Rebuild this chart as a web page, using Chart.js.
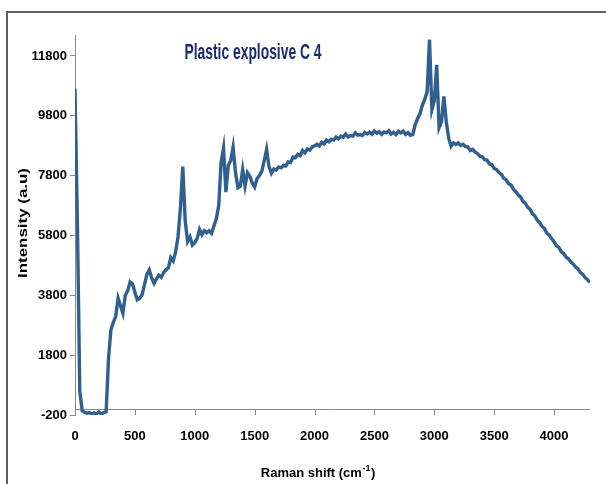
<!DOCTYPE html>
<html>
<head>
<meta charset="utf-8">
<title>Plastic explosive C 4 - Raman spectrum</title>
<script src="https://cdn.jsdelivr.net/npm/chart.js@4/dist/chart.umd.min.js"></script>
<style>
  html, body { margin: 0; padding: 0; background: #ffffff; }
  canvas { display: block; }
</style>
</head>
<body>
<canvas id="c" width="606" height="484"></canvas>
<script>
// Raman shift (cm-1)
const ramanShift = [
  0, 20, 40, 60, 80, 100, 120, 140, 160, 180,
  200, 220, 240, 260, 280, 300, 320, 340, 360, 380,
  400, 420, 440, 460, 480, 500, 520, 540, 560, 580,
  600, 620, 640, 660, 680, 700, 720, 740, 760, 780,
  800, 820, 840, 860, 880, 900, 920, 940, 960, 980,
  1000, 1020, 1040, 1060, 1080, 1100, 1120, 1140, 1160, 1180,
  1200, 1220, 1240, 1260, 1280, 1300, 1320, 1340, 1360, 1380,
  1400, 1420, 1440, 1460, 1480, 1500, 1520, 1540, 1560, 1580,
  1600, 1620, 1640, 1660, 1680, 1700, 1720, 1740, 1760, 1780,
  1800, 1820, 1840, 1860, 1880, 1900, 1920, 1940, 1960, 1980,
  2000, 2020, 2040, 2060, 2080, 2100, 2120, 2140, 2160, 2180,
  2200, 2220, 2240, 2260, 2280, 2300, 2320, 2340, 2360, 2380,
  2400, 2420, 2440, 2460, 2480, 2500, 2520, 2540, 2560, 2580,
  2600, 2620, 2640, 2660, 2680, 2700, 2720, 2740, 2760, 2780,
  2800, 2820, 2840, 2860, 2880, 2900, 2920, 2940, 2960, 2980,
  3000, 3020, 3040, 3060, 3080, 3100, 3120, 3140, 3160, 3180,
  3200, 3220, 3240, 3260, 3280, 3300, 3320, 3340, 3360, 3380,
  3400, 3420, 3440, 3460, 3480, 3500, 3520, 3540, 3560, 3580,
  3600, 3620, 3640, 3660, 3680, 3700, 3720, 3740, 3760, 3780,
  3800, 3820, 3840, 3860, 3880, 3900, 3920, 3940, 3960, 3980,
  4000, 4020, 4040, 4060, 4080, 4100, 4120, 4140, 4160, 4180,
  4200, 4220, 4240, 4260, 4280, 4300
];

// Intensity (a.u)
const intensity = [
  10700, 6200, 600, -60, -110, -140, -120, -170, -130, -160,
  -100, -170, -120, -90, 1700, 2650, 2900, 3100, 3700, 3450,
  3200, 3800, 3950, 4250, 4180, 3900, 3650, 3700, 3820, 4150,
  4500, 4650, 4380, 4200, 4350, 4470, 4400, 4560, 4660, 4720,
  5060, 4950, 5250, 5750, 6700, 8100, 6300, 5600, 5750, 5480,
  5560, 5700, 6000, 5830, 5960, 5890, 5960, 5870, 6120, 6360,
  6800, 8250, 8720, 7250, 8150, 8300, 8750, 7900, 7400, 7450,
  8000, 7450, 7900, 7780, 7550, 7420, 7700, 7800, 7950, 8300,
  8680, 8100, 7880, 8020, 7990, 8090, 8060, 8140, 8120, 8260,
  8240, 8420, 8400, 8510, 8470, 8640, 8560, 8690, 8650, 8760,
  8800, 8850, 8790, 8920, 8860, 8990, 8930, 9010, 8990, 9090,
  9030, 9120, 9080, 9190, 9090, 9140, 9120, 9230, 9150, 9170,
  9140, 9240, 9190, 9250, 9180, 9290, 9220, 9270, 9180, 9260,
  9230, 9300, 9190, 9250, 9170, 9280, 9230, 9290, 9180, 9240,
  9150, 9170, 9500, 9700, 9870, 10150, 10350, 10600, 12350, 10000,
  10300, 11500, 9400, 9600, 10450, 9600, 9050, 8780, 8890, 8840,
  8890, 8810, 8850, 8770, 8760, 8640, 8680, 8590, 8540, 8450,
  8430, 8330, 8320, 8190, 8170, 8040, 8000, 7900, 7840, 7710,
  7660, 7530, 7490, 7350, 7270, 7160, 7090, 6940, 6870, 6740,
  6670, 6530, 6450, 6310, 6230, 6100, 6030, 5870, 5810, 5690,
  5590, 5460, 5400, 5260, 5190, 5080, 5020, 4910, 4850, 4740,
  4680, 4560, 4500, 4390, 4320, 4230
];

const xTicks = [0, 500, 1000, 1500, 2000, 2500, 3000, 3500, 4000];
const yTicks = [-200, 1800, 3800, 5800, 7800, 9800, 11800];

const chartTitle = 'Plastic explosive C 4';
const yTitle = 'Intensity (a.u)';
const xTitleMain = 'Raman shift (cm';
const xTitleSup = '-1';
const xTitleEnd = ')';

const AXIS_GREY = '#8a8a8a';
const FONT = '"Liberation Sans", Arial, sans-serif';

// Draws a text horizontally squeezed/stretched so it occupies `width` pixels.
function fitText(ctx, text, cx, cy, width) {
  const w = ctx.measureText(text).width;
  ctx.save();
  ctx.translate(cx, cy);
  ctx.scale(width / w, 1);
  ctx.fillText(text, 0, 0);
  ctx.restore();
}

const decorations = {
  id: 'decorations',
  beforeDraw(chart) {
    const { ctx, width, height } = chart;
    ctx.save();
    ctx.fillStyle = '#ffffff';
    ctx.fillRect(0, 0, width, height);
    // outer frame
    ctx.strokeStyle = '#5e5e5e';
    ctx.lineWidth = 2;
    ctx.beginPath();
    ctx.moveTo(7, height + 2);
    ctx.lineTo(7, 12);
    ctx.lineTo(width + 2, 12);
    ctx.stroke();
    ctx.restore();
  },
  beforeDatasetsDraw(chart) {
    // horizontal axis crossing at intensity 0, with its tick marks
    const { ctx, chartArea, scales } = chart;
    const xs = scales.x, ys = scales.y;
    const y0 = Math.round(ys.getPixelForValue(0)) + 0.5;
    const yb = ys.getPixelForValue(yTicks[0]);
    ctx.save();
    ctx.strokeStyle = AXIS_GREY;
    ctx.lineWidth = 1;
    ctx.beginPath();
    ctx.moveTo(chartArea.left, y0);
    ctx.lineTo(chartArea.right, y0);
    xs.ticks.forEach(t => {
      const px = Math.round(xs.getPixelForValue(t.value)) + 0.5;
      ctx.moveTo(px, y0);
      ctx.lineTo(px, yb);
    });
    ctx.stroke();
    ctx.restore();
  },
  afterDraw(chart) {
    const { ctx } = chart;
    ctx.save();
    // chart title
    ctx.fillStyle = '#1c2b6b';
    ctx.font = 'bold 22px ' + FONT;
    ctx.textAlign = 'center';
    ctx.textBaseline = 'alphabetic';
    fitText(ctx, chartTitle, 253, 59, 137);

    // y axis title
    ctx.fillStyle = '#000000';
    ctx.font = 'bold 13px ' + FONT;
    ctx.save();
    ctx.translate(23, 223);
    ctx.rotate(-Math.PI / 2);
    ctx.textBaseline = 'middle';
    fitText(ctx, yTitle, 0, 0, 110);
    ctx.restore();

    // x axis title with superscript
    ctx.font = 'bold 13px ' + FONT;
    ctx.textAlign = 'left';
    ctx.textBaseline = 'alphabetic';
    const wMain = ctx.measureText(xTitleMain).width;
    ctx.font = 'bold 9px ' + FONT;
    const wSup = ctx.measureText(xTitleSup).width;
    ctx.font = 'bold 13px ' + FONT;
    const wEnd = ctx.measureText(xTitleEnd).width;
    const total = wMain + wSup + 1 + wEnd;
    let x0 = 318 - total / 2;
    const base = 477;
    ctx.fillText(xTitleMain, x0, base);
    ctx.font = 'bold 9px ' + FONT;
    ctx.fillText(xTitleSup, x0 + wMain + 0.5, base - 6);
    ctx.font = 'bold 13px ' + FONT;
    ctx.fillText(xTitleEnd, x0 + wMain + wSup + 1, base);
    ctx.restore();
  }
};

const points = ramanShift.map((x, i) => ({ x: x, y: intensity[i] }));

new Chart(document.getElementById('c'), {
  type: 'line',
  data: {
    datasets: [{
      data: points,
      borderColor: '#2f6090',
      borderWidth: 3.4,
      pointRadius: 0,
      tension: 0,
      fill: false
    }]
  },
  options: {
    responsive: false,
    animation: false,
    devicePixelRatio: 1,
    layout: { padding: { top: 35, right: 16, left: 0, bottom: 0 } },
    plugins: {
      legend: { display: false },
      tooltip: { enabled: false },
      title: { display: false }
    },
    scales: {
      x: {
        type: 'linear',
        min: 0,
        max: 4300,
        afterBuildTicks: s => { s.ticks = xTicks.map(v => ({ value: v })); },
        afterFit: s => { s.height = 69; },
        grid: { display: false, drawTicks: false },
        border: { display: false },
        ticks: {
          autoSkip: false,
          maxRotation: 0,
          padding: 14,
          color: '#000000',
          font: { family: FONT, size: 13, weight: 'bold' },
          callback: v => String(v)
        }
      },
      y: {
        type: 'linear',
        min: -200,
        max: 12500,
        afterBuildTicks: s => { s.ticks = yTicks.map(v => ({ value: v })); },
        afterFit: s => { s.width = 75; },
        grid: {
          drawOnChartArea: false,
          drawTicks: true,
          tickLength: 5,
          color: AXIS_GREY
        },
        border: { display: true, color: AXIS_GREY, width: 1 },
        ticks: {
          padding: 3,
          color: '#000000',
          font: { family: FONT, size: 13, weight: 'bold' },
          callback: v => String(v)
        }
      }
    }
  },
  plugins: [decorations]
});
</script>
</body>
</html>
